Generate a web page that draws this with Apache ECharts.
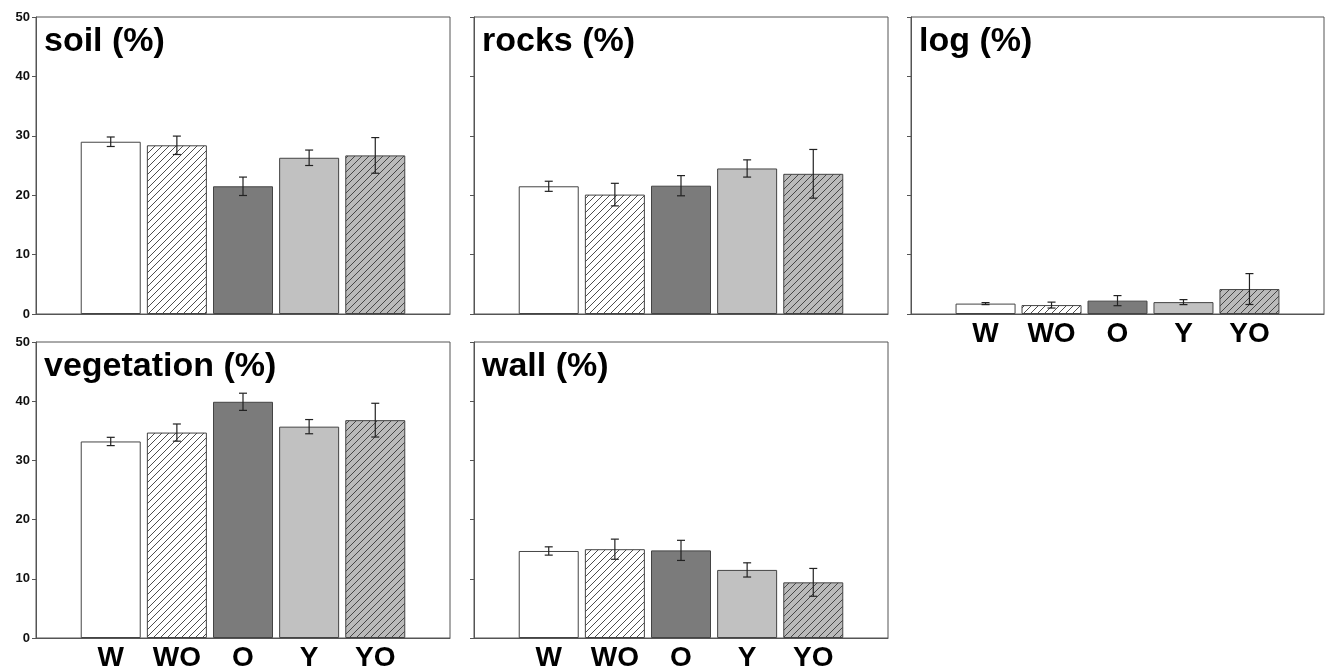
<!DOCTYPE html>
<html>
<head>
<meta charset="utf-8">
<script src="https://cdn.jsdelivr.net/npm/echarts@6/dist/echarts.min.js"></script>
<style>
html, body { margin: 0; padding: 0; background: #fff; }
#chart { width: 1325px; height: 672px; }
</style>
</head>
<body>
<div id="chart"></div>
<script>
var categories = ['W', 'WO', 'O', 'Y', 'YO'];
var soilMean = [29.0, 28.4, 21.5, 26.3, 26.7];
var soilErr = [0.8, 1.55, 1.55, 1.3, 3.0];
var rocksMean = [21.5, 20.1, 21.6, 24.5, 23.6];
var rocksErr = [0.85, 1.9, 1.7, 1.45, 4.1];
var logMean = [1.75, 1.5, 2.25, 2.0, 4.2];
var logErr = [0.17, 0.5, 0.85, 0.42, 2.6];
var vegMean = [33.2, 34.7, 39.9, 35.7, 36.8];
var vegErr = [0.7, 1.45, 1.45, 1.2, 2.85];
var wallMean = [14.7, 15.0, 14.8, 11.5, 9.4];
var wallErr = [0.7, 1.7, 1.7, 1.2, 2.35];
var panelTitles = ['soil (%)', 'rocks (%)', 'log (%)', 'vegetation (%)', 'wall (%)'];
var yTicks = [0, 10, 20, 30, 40, 50];

// hatch tile for the "O" variants
function hatch(bg) {
	var s = 7;
	var c = document.createElement('canvas');
	c.width = s; c.height = s;
	var ctx = c.getContext('2d');
	ctx.fillStyle = bg;
	ctx.fillRect(0, 0, s, s);
	ctx.strokeStyle = '#3a3a3a';
	ctx.lineWidth = 0.9;
	ctx.beginPath();
	ctx.moveTo(-1, s + 1); ctx.lineTo(s + 1, -1);
	ctx.moveTo(-1, 1); ctx.lineTo(1, -1);
	ctx.moveTo(s - 1, s + 1); ctx.lineTo(s + 1, s - 1);
	ctx.stroke();
	return { image: c, repeat: 'repeat' };
}
var fills = ['#ffffff', hatch('#ffffff'), '#7b7b7b', '#c1c1c1', hatch('#bababa')];

// panel boxes: left, top, width, height, y labels, x labels
var panels = [
	[36, 17, 414, 297, true, false],
	[474, 17, 414, 297, false, false],
	[911, 17, 413, 297, false, true],
	[36, 342, 414, 297, true, true],
	[474, 342, 414, 297, false, true]
];
var means = [soilMean, rocksMean, logMean, vegMean, wallMean];
var errs = [soilErr, rocksErr, logErr, vegErr, wallErr];

var grids = [], xAxes = [], yAxes = [], series = [], titles = [];
panels.forEach(function(p, k) {
	grids.push({ left: p[0], top: p[1], width: p[2], height: p[3], show: true,
		borderColor: '#555', borderWidth: 1, containLabel: false });
	xAxes.push({
		gridIndex: k, type: 'value', min: -1.13, max: 5.13,
		axisLine: { show: true, onZero: false, lineStyle: { color: '#555', width: 1 } },
		axisTick: { show: false },
		splitLine: { show: false },
		axisLabel: {
			show: p[5], customValues: [0, 1, 2, 3, 4], margin: 6,
			fontFamily: 'Liberation Sans', fontWeight: 'bold', fontSize: 28, color: '#000',
			formatter: function(v) { return categories[Math.round(v)] || ''; }
		}
	});
	yAxes.push({
		gridIndex: k, type: 'value', min: yTicks[0], max: yTicks[yTicks.length - 1], interval: 10,
		axisLine: { show: true, onZero: false, lineStyle: { color: '#555', width: 1 } },
		axisTick: { show: true, length: 4, lineStyle: { color: '#555' } },
		splitLine: { show: false },
		axisLabel: { show: p[4], margin: 6, fontFamily: 'Liberation Sans', fontWeight: 'bold',
			fontSize: 13, color: '#111' }
	});
	titles.push({ text: panelTitles[k], left: p[0] + 8, top: p[1] + 8, padding: 0,
		textStyle: { fontFamily: 'Liberation Sans', fontWeight: 'bold', fontSize: 34, color: '#000' } });
	series.push({
		type: 'bar', xAxisIndex: k, yAxisIndex: k, barWidth: 60,
		data: means[k].map(function(v, i) {
			return { value: [i, v], itemStyle: { color: fills[i], borderColor: '#444', borderWidth: 1 } };
		}),
		silent: true
	});
	series.push({
		type: 'custom', xAxisIndex: k, yAxisIndex: k, z: 5,
		data: means[k].map(function(v, i) { return [i, v - errs[k][i], v + errs[k][i]]; }),
		renderItem: function(params, api) {
			var lo = api.coord([api.value(0), api.value(1)]);
			var hi = api.coord([api.value(0), api.value(2)]);
			var w = 4;
			var st = { stroke: '#222', lineWidth: 1.2 };
			return { type: 'group', children: [
				{ type: 'line', shape: { x1: lo[0], y1: lo[1], x2: hi[0], y2: hi[1] }, style: st },
				{ type: 'line', shape: { x1: lo[0] - w, y1: lo[1], x2: lo[0] + w, y2: lo[1] }, style: st },
				{ type: 'line', shape: { x1: hi[0] - w, y1: hi[1], x2: hi[0] + w, y2: hi[1] }, style: st }
			] };
		}
	});
});

var mychart = echarts.init(document.getElementById('chart'));
mychart.setOption({
	animation: false,
	backgroundColor: '#fff',
	title: titles,
	grid: grids,
	xAxis: xAxes,
	yAxis: yAxes,
	series: series
});
</script>
</body>
</html>
